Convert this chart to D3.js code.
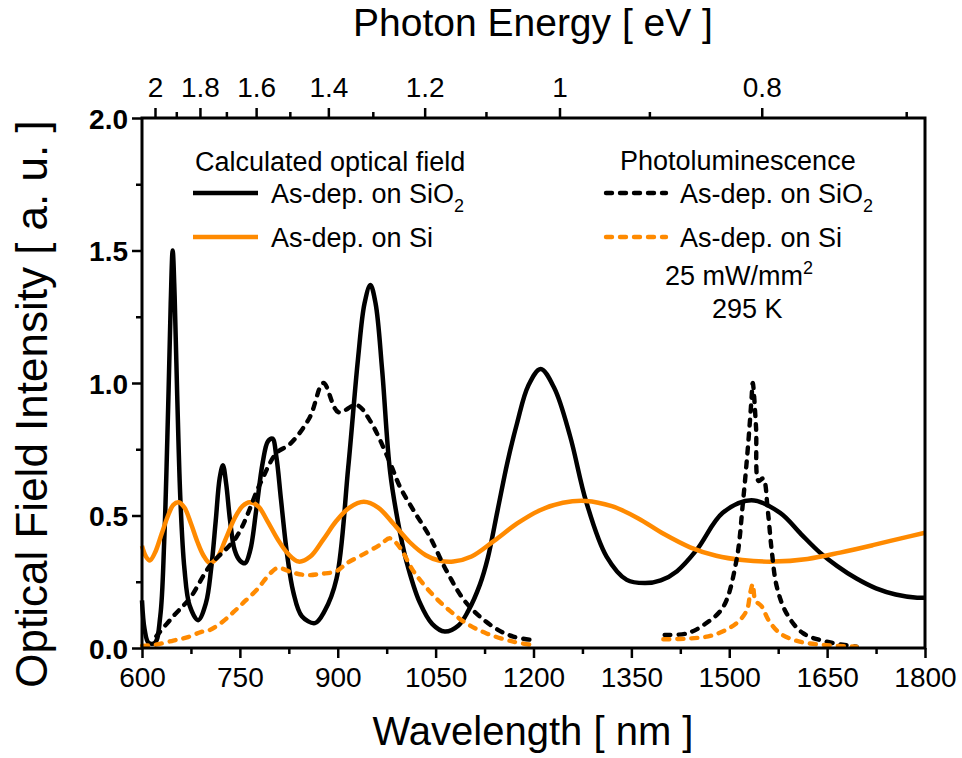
<!DOCTYPE html>
<html>
<head>
<meta charset="utf-8">
<script src="https://cdn.jsdelivr.net/npm/d3@7"></script>
<style>
  body { margin: 0; background: #fff; }
  text { font-family: 'Liberation Sans', Arial, sans-serif; fill: #000; }
</style>
</head>
<body>
<svg id="chart" width="962" height="758"></svg>
<script>
// calculated optical field, film on SiO2 (solid black)
let calcSiO2Nm = [600,604,610,620,628,634,640,644,647,650,654,659,665,673,686,698,706,713,719,724,729,735,742,750,758,766,775,785,793,800,806,813,822,832,845,865,880,898,916,931,941,950,958,968,980,992,1005,1026,1045,1064,1085,1100,1118,1130,1145,1160,1175,1192,1211,1232,1256,1281,1312,1343,1371,1395,1420,1450,1490,1534,1578,1610,1639,1665,1695,1725,1755,1788,1800];
let calcSiO2 = [0.18,0.07,0.02,0.02,0.12,0.4,0.9,1.3,1.5,1.33,0.95,0.55,0.3,0.16,0.105,0.17,0.3,0.48,0.64,0.69,0.62,0.48,0.37,0.33,0.32,0.37,0.52,0.7,0.78,0.79,0.72,0.56,0.36,0.21,0.12,0.094,0.14,0.26,0.68,1.09,1.3,1.37,1.3,1.05,0.67,0.48,0.33,0.17,0.09,0.062,0.085,0.14,0.24,0.34,0.52,0.7,0.85,0.99,1.053,0.98,0.8,0.55,0.345,0.257,0.245,0.255,0.29,0.37,0.51,0.558,0.51,0.43,0.36,0.31,0.262,0.225,0.202,0.19,0.19];

// calculated optical field, film on Si (solid orange)
let calcSiNm = [600,606,612,620,630,640,648,656,665,675,685,694,704,715,728,742,754,765,778,792,808,824,840,858,878,898,918,940,962,985,1010,1035,1055,1077,1105,1140,1175,1210,1245,1280,1320,1360,1400,1440,1480,1520,1568,1620,1670,1720,1760,1800];
let calcSi = [0.385,0.345,0.33,0.36,0.43,0.5,0.54,0.55,0.53,0.47,0.4,0.35,0.32,0.34,0.41,0.49,0.535,0.55,0.535,0.48,0.41,0.355,0.326,0.345,0.41,0.48,0.53,0.552,0.53,0.47,0.4,0.35,0.33,0.326,0.345,0.405,0.47,0.52,0.548,0.555,0.535,0.49,0.43,0.38,0.348,0.332,0.326,0.336,0.36,0.388,0.412,0.435];

// photoluminescence, film on SiO2 (dashed black), two detector ranges
let plSiO2VisNm = [622,648,674,704,745,781,806,827,857,878,901,929,949,980,995,1016,1041,1067,1097,1138,1169,1199];
let plSiO2Vis = [0.045,0.12,0.19,0.31,0.42,0.62,0.735,0.77,0.87,1.0,0.89,0.917,0.86,0.7,0.61,0.52,0.42,0.29,0.17,0.08,0.043,0.03];
let plSiO2IrNm = [1401,1435,1465,1491,1511,1521,1529,1534,1536,1541,1545,1552,1559,1565,1573,1588,1613,1649,1695];
let plSiO2Ir = [0.049,0.055,0.094,0.156,0.33,0.55,0.77,0.935,1.0,0.835,0.63,0.64,0.52,0.37,0.23,0.13,0.056,0.024,0.005];

// photoluminescence, film on Si (dashed orange)
let plSiVisNm = [600,620,648,669,690,704,724,740,755,776,796,808,830,852,875,898,914,944,965,980,995,1016,1046,1072,1097,1128,1169,1199];
let plSiVis = [0.008,0.012,0.028,0.04,0.06,0.068,0.1,0.135,0.17,0.22,0.28,0.302,0.285,0.275,0.28,0.29,0.32,0.36,0.39,0.414,0.38,0.29,0.2,0.14,0.093,0.055,0.024,0.011];
let plSiIrNm = [1399,1440,1476,1511,1527,1532,1536,1540,1550,1560,1578,1608,1649,1695];
let plSiIr = [0.033,0.036,0.049,0.093,0.143,0.206,0.241,0.18,0.156,0.106,0.055,0.024,0.011,0.005];

// ticks
let nmMajor = [600,750,900,1050,1200,1350,1500,1650,1800];
let nmMinor = [675,825,975,1125,1275,1425,1575,1725];
let yMajor = [0,0.5,1,1.5,2];
let yMinor = [0.25,0.75,1.25,1.75];
let evMajor = [2,1.8,1.6,1.4,1.2,1,0.8];
let evMinor = [1.9,1.7,1.5,1.3,1.1,0.9,0.7];

const orange = "#ff8a00";
const hc = 1239.84; // eV*nm

let mIzq = 142, mDer = 925, mSup = 118, mInf = 648;

let x = d3.scaleLinear().domain([600, 1800]).range([mIzq, mDer]);
let y = d3.scaleLinear().domain([0, 2]).range([mInf, mSup]);

let svg = d3.select("#chart");

function pares(xs, ys) {
    return xs.map((v, i) => [v, ys[i]]);
}

let linea = d3.line()
    .x(d => x(d[0]))
    .y(d => y(d[1]))
    .curve(d3.curveCatmullRom.alpha(0.5));

let plot = svg.append("g");

plot.append("path").datum(pares(calcSiO2Nm, calcSiO2))
    .attr("d", linea).attr("fill", "none").attr("stroke", "#000").attr("stroke-width", 4.5);
plot.append("path").datum(pares(calcSiNm, calcSi))
    .attr("d", linea).attr("fill", "none").attr("stroke", orange).attr("stroke-width", 4.5);

[[plSiO2VisNm, plSiO2Vis, "#000"], [plSiO2IrNm, plSiO2Ir, "#000"],
 [plSiVisNm, plSiVis, orange], [plSiIrNm, plSiIr, orange]].forEach(s => {
    plot.append("path").datum(pares(s[0], s[1]))
        .attr("d", linea).attr("fill", "none").attr("stroke", s[2])
        .attr("stroke-width", 4.4).attr("stroke-dasharray", "6,8")
        .attr("stroke-linecap", "round");
});

// axes
function limpiar(g) {
    g.select(".domain").remove();
    g.selectAll(".tick line").attr("stroke", "#000").attr("stroke-width", 2.5);
}

let xAxis = svg.append("g").attr("transform", `translate(0,${mInf})`)
    .call(d3.axisBottom(x).tickValues(nmMajor).tickSize(10).tickFormat(d3.format("d")));
limpiar(xAxis);
xAxis.selectAll("text").attr("y", 39).attr("dy", 0).attr("font-size", 28).attr("font-family", null);

let xMinor = svg.append("g").attr("transform", `translate(0,${mInf})`)
    .call(d3.axisBottom(x).tickValues(nmMinor).tickSize(6).tickFormat(""));
limpiar(xMinor);

let yAxis = svg.append("g").attr("transform", `translate(${mIzq},0)`)
    .call(d3.axisLeft(y).tickValues(yMajor).tickSize(10).tickFormat(d3.format(".1f")));
limpiar(yAxis);
yAxis.selectAll("text").attr("x", -14).attr("dy", "0.36em").attr("font-size", 28)
    .attr("font-weight", "bold").attr("font-family", null);

let yMin = svg.append("g").attr("transform", `translate(${mIzq},0)`)
    .call(d3.axisLeft(y).tickValues(yMinor).tickSize(6).tickFormat(""));
limpiar(yMin);

let topAxis = svg.append("g").attr("transform", `translate(0,${mSup})`)
    .call(d3.axisTop(x).tickValues(evMajor.map(e => hc / e)).tickSize(10)
        .tickFormat((d, i) => String(evMajor[i])));
limpiar(topAxis);
topAxis.selectAll("text").attr("y", -21).attr("dy", 0).attr("font-size", 28).attr("font-family", null);

let topMinor = svg.append("g").attr("transform", `translate(0,${mSup})`)
    .call(d3.axisTop(x).tickValues(evMinor.map(e => hc / e)).tickSize(6).tickFormat(""));
limpiar(topMinor);

// frame
svg.append("rect").attr("x", mIzq).attr("y", mSup)
    .attr("width", mDer - mIzq).attr("height", mInf - mSup)
    .attr("fill", "none").attr("stroke", "#000").attr("stroke-width", 3);

// titles
svg.append("text").attr("x", 533).attr("y", 36).attr("text-anchor", "middle")
    .attr("font-size", 39).text("Photon Energy [ eV ]");
svg.append("text").attr("x", 533).attr("y", 745).attr("text-anchor", "middle")
    .attr("font-size", 40).text("Wavelength [ nm ]");
svg.append("text").attr("transform", "translate(47,404) rotate(-90)").attr("text-anchor", "middle")
    .attr("font-size", 44).text("Optical Field Intensity [ a. u. ]");

// legend
let ley = svg.append("g").attr("font-size", 27);

ley.append("text").attr("x", 195).attr("y", 171).text("Calculated optical field");
ley.append("line").attr("x1", 193).attr("x2", 258).attr("y1", 193).attr("y2", 193)
    .attr("stroke", "#000").attr("stroke-width", 4.5);
let t1 = ley.append("text").attr("x", 271).attr("y", 203).text("As-dep. on SiO");
t1.append("tspan").attr("font-size", 18).attr("dy", 9).text("2");
ley.append("line").attr("x1", 193).attr("x2", 258).attr("y1", 237).attr("y2", 237)
    .attr("stroke", orange).attr("stroke-width", 4.5);
ley.append("text").attr("x", 271).attr("y", 247).text("As-dep. on Si");

ley.append("text").attr("x", 620).attr("y", 170).text("Photoluminescence");
ley.append("line").attr("x1", 606).attr("x2", 666).attr("y1", 193).attr("y2", 193)
    .attr("stroke", "#000").attr("stroke-width", 4.4).attr("stroke-dasharray", "6,8")
    .attr("stroke-linecap", "round");
let t2 = ley.append("text").attr("x", 680).attr("y", 203).text("As-dep. on SiO");
t2.append("tspan").attr("font-size", 18).attr("dy", 9).text("2");
ley.append("line").attr("x1", 606).attr("x2", 666).attr("y1", 237).attr("y2", 237)
    .attr("stroke", orange).attr("stroke-width", 4.4).attr("stroke-dasharray", "6,8")
    .attr("stroke-linecap", "round");
ley.append("text").attr("x", 680).attr("y", 247).text("As-dep. on Si");

let t3 = ley.append("text").attr("x", 665).attr("y", 285).text("25 mW/mm");
t3.append("tspan").attr("font-size", 18).attr("dy", -11).text("2");
ley.append("text").attr("x", 712).attr("y", 318).text("295 K");
</script>
</body>
</html>
